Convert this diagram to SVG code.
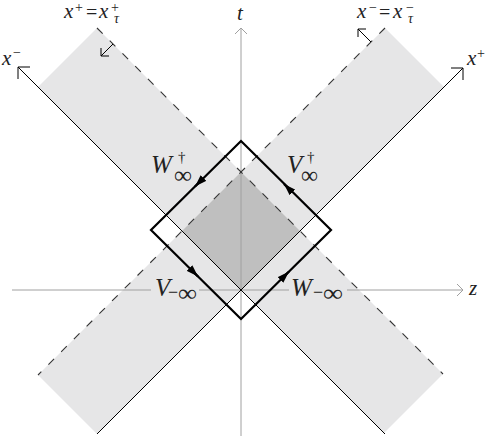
<svg xmlns="http://www.w3.org/2000/svg" width="489" height="436" viewBox="0 0 489 436">
<style>
.band{fill:#e6e6e7;stroke:none}
.core{fill:#bfbfbf;stroke:none}
.dash{stroke:#333;stroke-width:1.1;stroke-dasharray:8 10;fill:none}
.ax{stroke:#000;stroke-width:1;fill:none}
.gax{stroke:#a0a0a0;stroke-width:1;fill:none}
.loop{stroke:#000;stroke-width:2.2;fill:none;stroke-linejoin:miter}
text{fill:#222}
</style>
<defs>
<marker id="ah" viewBox="0 0 12 8" refX="12" refY="4" markerWidth="12" markerHeight="8" markerUnits="userSpaceOnUse" orient="auto">
<path d="M0,0 L12,4 L0,8 z" fill="#000"/>
</marker>
</defs>
<rect width="489" height="436" fill="#fff"/>
<g id="regions">
<polygon class="band" points="97,28 443,374 384,433 38,87"/>
<polygon class="band" points="385,28 444,87 97,434 38,375"/>
<polygon class="core" points="241,172 300,231 241,290 182,231"/>
</g>
<g id="connectors">
<line class="gax" x1="241" y1="436" x2="241" y2="28"/>
<polyline class="gax" points="235,34 241,28 247,34"/>
<line class="gax" x1="12" y1="290" x2="463" y2="290"/>
<polyline class="gax" points="457,284 463,290 457,296"/>
<line class="dash" x1="97" y1="28" x2="443" y2="374"/>
<line class="dash" x1="385" y1="28" x2="38" y2="375"/>
<line class="ax" x1="385" y1="434" x2="18" y2="67"/>
<polyline class="ax" points="30,67 18,67 18,79"/>
<line class="ax" x1="97" y1="434" x2="463" y2="68"/>
<polyline class="ax" points="451,68 463,68 463,80"/>
<line class="ax" x1="113" y1="44" x2="101" y2="56"/>
<polyline class="ax" points="101,48 101,56 109,56"/>
<line class="ax" x1="371" y1="42" x2="358" y2="29"/>
<polyline class="ax" points="358,37 358,29 366,29"/>
<path class="loop" d="M241,319 L331,230 L241,141 L151,230 Z"/>
<path class="loop" d="M282,278.5 L289,271.5" marker-end="url(#ah)"/>
<path class="loop" d="M291,191 L284,184" marker-end="url(#ah)"/>
<path class="loop" d="M202,179.5 L195,186.5" marker-end="url(#ah)"/>
<path class="loop" d="M191,269.5 L198,276.5" marker-end="url(#ah)"/>
</g>
<g font-family="'Liberation Serif', 'DejaVu Serif', serif">
<g id="label-tau-plus">
<text font-style="italic" x="64" y="18" font-size="21">x</text>
<text x="75" y="12" font-size="14">+</text>
<text x="86" y="19" font-size="20">=</text>
<text font-style="italic" x="99" y="18" font-size="21">x</text>
<text x="111" y="12" font-size="14">+</text>
<text font-style="italic" x="114" y="23" font-size="14">τ</text>
</g>
<g id="label-tau-minus">
<text font-style="italic" x="357" y="18" font-size="21">x</text>
<text x="369" y="12" font-size="14">−</text>
<text x="379" y="19" font-size="20">=</text>
<text font-style="italic" x="393" y="18" font-size="21">x</text>
<text x="406" y="12" font-size="14">−</text>
<text font-style="italic" x="408" y="23" font-size="14">τ</text>
</g>
<g id="label-xminus">
<text font-style="italic" x="2" y="65" font-size="21">x</text>
<text x="13" y="57" font-size="14">−</text>
</g>
<g id="label-xplus">
<text font-style="italic" x="467" y="65" font-size="21">x</text>
<text x="477" y="58" font-size="14">+</text>
</g>
<g id="label-t"><text font-style="italic" x="237" y="20" font-size="21">t</text></g>
<g id="label-z"><text font-style="italic" x="469" y="295" font-size="21">z</text></g>
<g id="label-Wdag">
<text font-style="italic" x="151" y="173" font-size="25">W</text>
<text x="178" y="162" font-size="15">†</text>
<text x="174" y="183" font-size="24" textLength="18" lengthAdjust="spacingAndGlyphs">∞</text>
</g>
<g id="label-Vdag">
<text font-style="italic" x="287" y="173" font-size="25">V</text>
<text x="307" y="162" font-size="15">†</text>
<text x="301" y="183" font-size="24" textLength="17" lengthAdjust="spacingAndGlyphs">∞</text>
</g>
<g id="label-Vminf">
<rect x="151" y="283" width="48" height="14" class="band"/>
<text font-style="italic" x="155" y="296" font-size="25">V</text>
<text x="168" y="298" font-size="18">−</text>
<text x="178" y="301" font-size="24" textLength="19" lengthAdjust="spacingAndGlyphs">∞</text>
</g>
<g id="label-Wminf">
<rect x="289" y="283" width="58" height="14" class="band"/>
<text font-style="italic" x="291" y="296" font-size="25">W</text>
<text x="313" y="298" font-size="18">−</text>
<text x="323" y="301" font-size="24" textLength="20" lengthAdjust="spacingAndGlyphs">∞</text>
</g>
</g>
</svg>
